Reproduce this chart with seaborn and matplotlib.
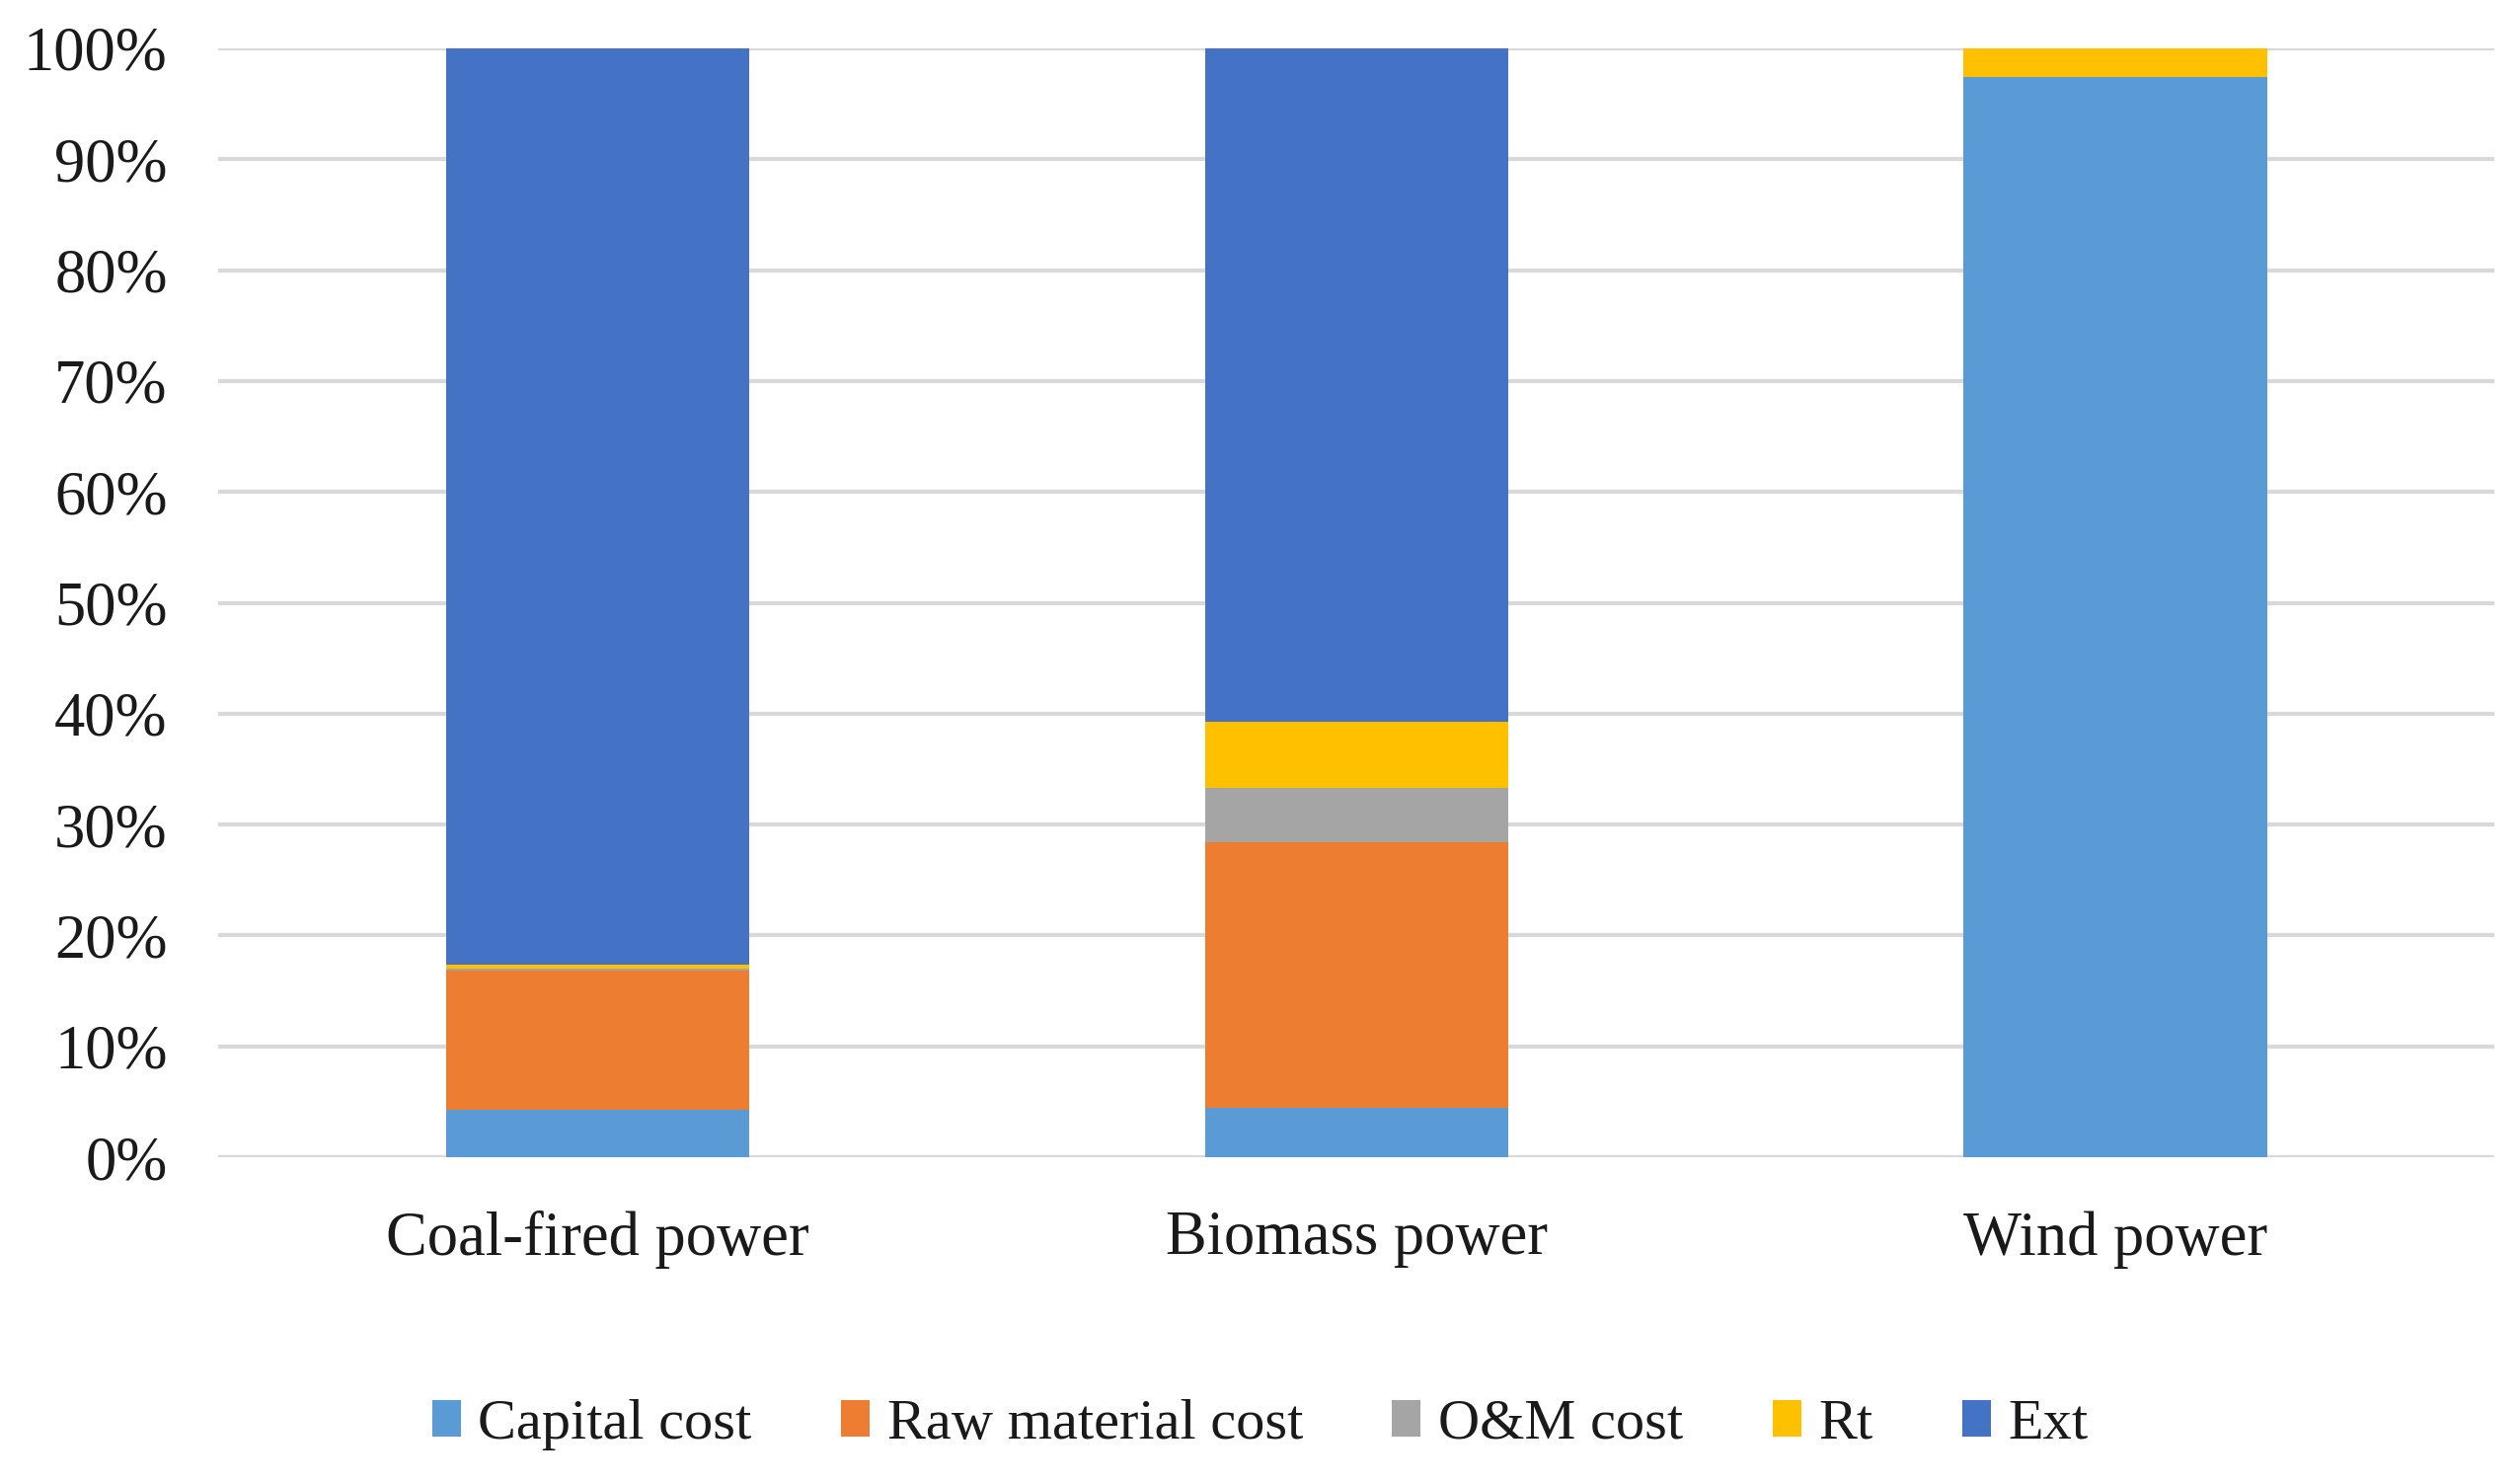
import matplotlib
matplotlib.use("Agg")
import matplotlib.pyplot as plt
import seaborn as sns
import pandas as pd
import numpy as np
from matplotlib.patches import Patch

categories = ["Coal-fired power", "Biomass power", "Wind power"]
series_names = ["Capital cost", "Raw material cost", "O&M cost", "Rt", "Ext"]
capital_cost = [4.3, 4.5, 97.45]
raw_material_cost = [12.5, 23.9, 0.0]
om_cost = [0.25, 4.9, 0.0]
rt = [0.3, 6.0, 2.55]
ext = [82.65, 60.7, 0.0]
colors = ["#5B9BD5", "#ED7D31", "#A5A5A5", "#FFC000", "#4472C4"]
yticks = [0, 10, 20, 30, 40, 50, 60, 70, 80, 90, 100]
ytick_labels = [f"{v}%" for v in yticks]

sns.set_theme(style="white")
plt.rcParams["font.family"] = ["Liberation Serif", "DejaVu Serif"]

fig = plt.figure(figsize=(25.53, 15.03), dpi=100)
ax = fig.add_axes([0.0866, 0.2202, 0.9034, 0.7472])

values = [capital_cost, raw_material_cost, om_cost, rt, ext]
bottom = np.zeros(len(categories))
for name, vals, col in zip(series_names, values, colors):
    df = pd.DataFrame({"cat": categories, "val": vals})
    sns.barplot(data=df, x="cat", y="val", color=col, bottom=bottom,
                width=0.4, ax=ax, saturation=1, linewidth=0, zorder=3)
    bottom = bottom + np.array(vals)

ax.set_xlim(-0.5, 2.5)
ax.set_ylim(0, 100)
ax.set_yticks(yticks)
ax.set_yticklabels(ytick_labels)
ax.set_xlabel("")
ax.set_ylabel("")
ax.yaxis.grid(True, color="#d9d9d9", linewidth=3, zorder=0)
ax.set_axisbelow(True)
for s in ax.spines.values():
    s.set_visible(False)
ax.tick_params(axis="y", labelsize=45, pad=37, length=0)
ax.tick_params(axis="x", labelsize=45, pad=39, length=0)
for lbl in ax.get_yticklabels() + ax.get_xticklabels():
    lbl.set_color("#1a1a1a")

handles = [Patch(facecolor=c, edgecolor="none") for c in colors]
fig.legend(handles, series_names, loc="center", bbox_to_anchor=(0.5, 0.04),
           ncol=5, frameon=False, fontsize=42, handlelength=0.5, handleheight=0.6,
           handletextpad=0.3, columnspacing=1.55, labelcolor="#1a1a1a")

fig.savefig("out.png", dpi=100)
